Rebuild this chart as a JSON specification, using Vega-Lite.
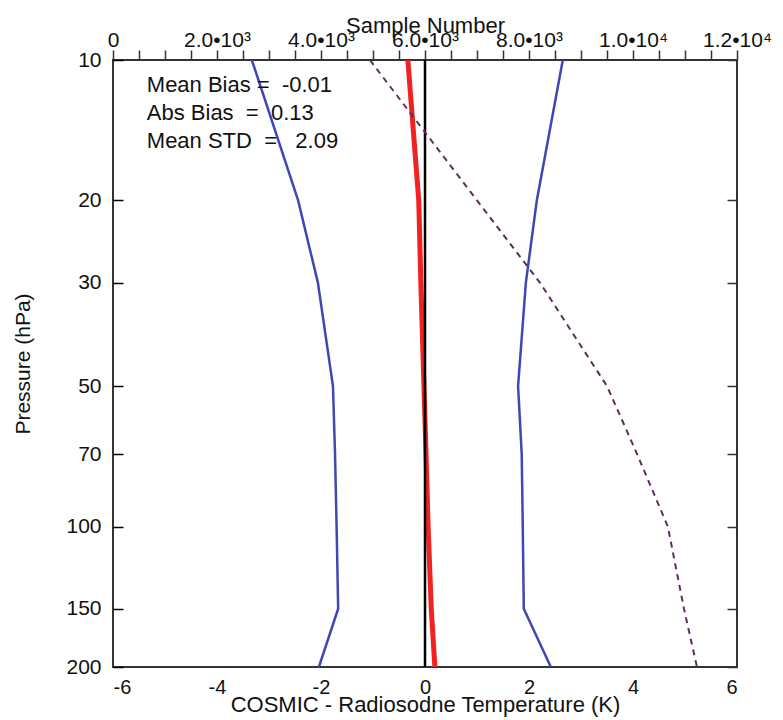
{
  "$schema": "https://vega.github.io/schema/vega-lite/v6.json",
  "width": 624,
  "height": 607,
  "autosize": "none",
  "padding": {"left": 113, "top": 60, "right": 46, "bottom": 53},
  "config": {
    "font": "Liberation Sans",
    "view": {"stroke": "#333333", "strokeWidth": 2},
    "axis": {"grid": false, "domain": false, "zindex": 1, "labelColor": "#111111", "titleColor": "#111111", "tickColor": "#333333", "tickWidth": 1.5, "labelFontWeight": "normal", "titleFontWeight": "normal"}
  },
  "datasets": {
    "temps": [
      {"p": 10, "series": "lower", "value": -3.33},
      {"p": 20, "series": "lower", "value": -2.44},
      {"p": 30, "series": "lower", "value": -2.06},
      {"p": 50, "series": "lower", "value": -1.77},
      {"p": 70, "series": "lower", "value": -1.73},
      {"p": 100, "series": "lower", "value": -1.70},
      {"p": 150, "series": "lower", "value": -1.67},
      {"p": 200, "series": "lower", "value": -2.04},
      {"p": 10, "series": "upper", "value": 2.65},
      {"p": 20, "series": "upper", "value": 2.15},
      {"p": 30, "series": "upper", "value": 1.94},
      {"p": 50, "series": "upper", "value": 1.79},
      {"p": 70, "series": "upper", "value": 1.86},
      {"p": 100, "series": "upper", "value": 1.88},
      {"p": 150, "series": "upper", "value": 1.90},
      {"p": 200, "series": "upper", "value": 2.42},
      {"p": 10, "series": "mean", "value": -0.33},
      {"p": 20, "series": "mean", "value": -0.12},
      {"p": 30, "series": "mean", "value": -0.08},
      {"p": 50, "series": "mean", "value": -0.02},
      {"p": 70, "series": "mean", "value": 0.02},
      {"p": 100, "series": "mean", "value": 0.06},
      {"p": 150, "series": "mean", "value": 0.12},
      {"p": 200, "series": "mean", "value": 0.19}
    ],
    "samples": [
      {"p": 10, "n": 4940},
      {"p": 20, "n": 7000},
      {"p": 30, "n": 8210},
      {"p": 50, "n": 9500},
      {"p": 70, "n": 10080},
      {"p": 100, "n": 10670},
      {"p": 150, "n": 10980},
      {"p": 200, "n": 11230}
    ]
  },
  "layer": [
    {
      "layer": [
        {
          "data": {"name": "temps"},
          "mark": {"type": "line", "clip": true},
          "encoding": {
            "y": {
              "field": "p", "type": "quantitative",
              "scale": {"type": "log", "domain": [10, 200], "reverse": true, "nice": false},
              "axis": {
                "orient": "left",
                "values": [10, 20, 30, 50, 70, 100, 150, 200],
                "ticks": true,
                "tickSize": -10,
                "tickColor": "black",
                "labelPadding": 22,
                "labelFontSize": 21,
                "title": "Pressure (hPa)",
                "titleFontSize": 21,
                "titlePadding": 32
              }
            },
            "x": {
              "field": "value", "type": "quantitative",
              "scale": {"domain": [-6, 6], "nice": false, "zero": false},
              "axis": {
                "orient": "bottom",
                "values": [-6, -5.5, -5, -4.5, -4, -3.5, -3, -2.5, -2, -1.5, -1, -0.5, 0, 0.5, 1, 1.5, 2, 2.5, 3, 3.5, 4, 4.5, 5, 5.5, 6],
                "ticks": true,
                "tickSize": 0,
                "encode": {"ticks": {"update": {"y2": {"signal": "datum.value % 2 === 0 ? -10 : -5"}}}},
                "labelExpr": "datum.value % 2 === 0 ? toString(datum.value) : ''",
                "labelPadding": 10,
                "labelFontSize": 20,
                "title": "COSMIC - Radiosodne Temperature (K)",
                "titleFontSize": 22,
                "titlePadding": -3
              }
            },
            "detail": {"field": "series"},
            "order": {"field": "p", "type": "quantitative"},
            "color": {"condition": {"test": "datum.series === 'mean'", "value": "#f02222"}, "value": "#3f47b3"},
            "strokeWidth": {"condition": {"test": "datum.series === 'mean'", "value": 5}, "value": 2.5}
          }
        },
        {
          "data": {"values": [{"ref": 0}]},
          "mark": {"type": "rule", "color": "black", "strokeWidth": 2.5},
          "encoding": {"x": {"field": "ref", "type": "quantitative"}}
        },
        {
          "data": {"values": [{"ref": 0}]},
          "mark": {"type": "text", "align": "left", "baseline": "top", "fontSize": 22, "lineHeight": 28, "color": "#111111"},
          "encoding": {
            "x": {"datum": -5.35},
            "y": {"datum": 10.75},
            "text": {"value": ["Mean Bias =\u00a0 -0.01", "Abs Bias\u00a0 =\u00a0 0.13", "Mean STD\u00a0 =\u00a0\u00a0 2.09"]}
          }
        }
      ]
    },
    {
      "data": {"name": "samples"},
      "mark": {"type": "line", "color": "#5e2d5e", "strokeWidth": 2, "strokeDash": [6, 5], "clip": true},
      "encoding": {
        "x": {
          "field": "n", "type": "quantitative",
          "scale": {"domain": [0, 12000], "nice": false, "zero": false},
          "axis": {
            "orient": "top",
            "values": [0, 500, 1000, 1500, 2000, 2500, 3000, 3500, 4000, 4500, 5000, 5500, 6000, 6500, 7000, 7500, 8000, 8500, 9000, 9500, 10000, 10500, 11000, 11500, 12000],
            "ticks": true,
            "tickSize": 10,
            "labelExpr": "datum.value % 2000 !== 0 ? '' : datum.value === 0 ? '0' : datum.value < 10000 ? format(datum.value / 1000, '.1f') + '•10³' : format(datum.value / 10000, '.1f') + '•10⁴'",
            "labelPadding": 0,
            "labelFontSize": 21,
            "labelBound": false,
            "labelFlush": false,
            "labelOverlap": false,
            "title": "Sample Number",
            "titleFontSize": 22,
            "titlePadding": -8
          }
        },
        "y": {
          "field": "p", "type": "quantitative",
          "axis": {
            "orient": "right",
            "values": [10, 20, 30, 50, 70, 100, 150, 200],
            "ticks": true,
            "tickSize": -10,
            "labels": false,
            "title": null
          }
        },
        "order": {"field": "p", "type": "quantitative"}
      }
    }
  ],
  "resolve": {
    "scale": {"x": "independent"},
    "axis": {"x": "independent", "y": "independent"}
  }
}
